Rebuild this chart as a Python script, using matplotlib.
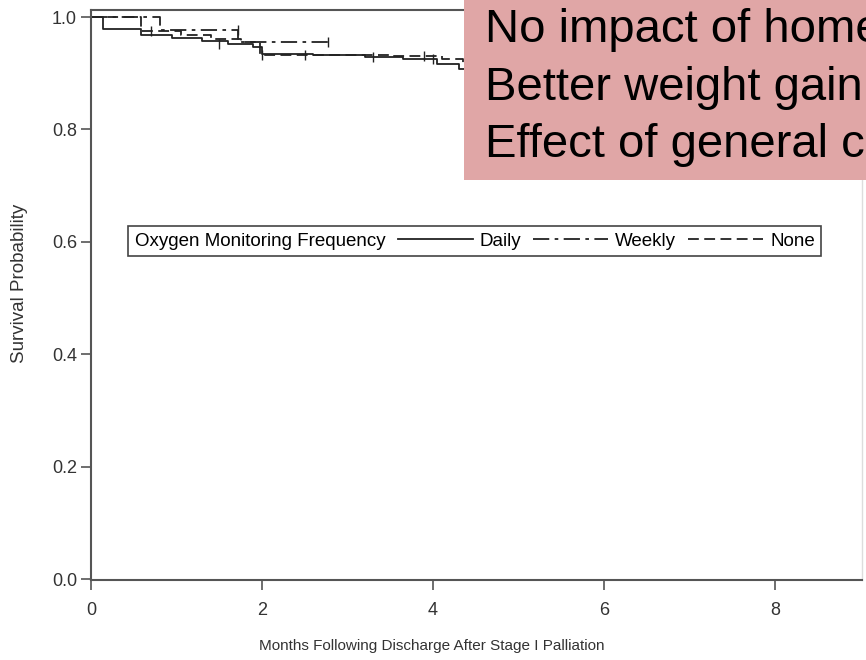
import matplotlib.pyplot as plt
from matplotlib.patches import Rectangle

plt.rcParams['font.family'] = ['Liberation Sans', 'DejaVu Sans']

# Kaplan-Meier step data (months, survival)
daily_t = [0, 0.14, 0.58, 0.95, 1.3, 1.6, 1.9, 2.0, 2.6, 3.2, 3.65, 4.05, 4.3, 4.45, 4.7]
daily_s = [1.0, 0.978, 0.968, 0.963, 0.958, 0.952, 0.946, 0.935, 0.932, 0.929, 0.925, 0.916, 0.908, 0.9, 0.893]
weekly_t = [0, 0.81, 1.72, 2.77]
weekly_s = [1.0, 0.977, 0.956, 0.956]
none_t = [0, 0.59, 1.05, 1.4, 1.75, 1.98, 3.5, 4.1, 4.35, 4.7]
none_s = [1.0, 0.975, 0.968, 0.961, 0.955, 0.932, 0.93, 0.925, 0.918, 0.918]

# censored observations
daily_cens_t = [1.5, 2.5, 3.3, 4.0]
daily_cens_s = [0.952, 0.932, 0.929, 0.925]
weekly_cens_t = [1.72, 2.77]
weekly_cens_s = [0.977, 0.956]
none_cens_t = [0.7, 2.0, 3.9]
none_cens_s = [0.975, 0.932, 0.93]

x_ticks = [0, 2, 4, 6, 8]
y_ticks = [0.0, 0.2, 0.4, 0.6, 0.8, 1.0]

# overlay note, only the part visible in the picture
notes = ['No impact of home',
         'Better weight gain',
         'Effect of general c']

fig = plt.figure(figsize=(8.66, 6.6), dpi=100)
ax = fig.add_axes([91 / 866, 80 / 660, 771 / 866, 570 / 660])

lc = '#222222'
l1, = ax.step(daily_t, daily_s, where='post', color=lc, lw=1.3, linestyle='-', label='Daily')
l2, = ax.step(weekly_t, weekly_s, where='post', color=lc, lw=1.3, linestyle=(0, (9, 3, 2, 3)), label='Weekly')
l3, = ax.step(none_t, none_s, where='post', color=lc, lw=1.3, linestyle=(0, (6, 3)), label='None')
ax.plot(daily_cens_t, daily_cens_s, '|', color=lc, ms=7)
ax.plot(weekly_cens_t, weekly_cens_s, '|', color=lc, ms=7)
ax.plot(none_cens_t, none_cens_s, '|', color=lc, ms=7)

ax.set_xlim(0, 771 / 85.5)
ax.set_ylim(-1 / 562, 1 + 7 / 562)
ax.set_xticks(x_ticks)
ax.set_xticklabels([str(v) for v in x_ticks])
ax.set_yticks(y_ticks)
ax.set_yticklabels(['%.1f' % v for v in y_ticks])

for s in ['left', 'bottom', 'top']:
    ax.spines[s].set_color('#555555')
    ax.spines[s].set_linewidth(1.5)
ax.spines['right'].set_color('#dddddd')
ax.spines['right'].set_linewidth(1)
ax.tick_params(direction='out', length=7, width=1.2, color='#555555',
               labelcolor='#333333', labelsize=13)
ax.tick_params(axis='x', pad=9)
ax.tick_params(axis='y', pad=3)

ax.set_xlabel('Months Following Discharge After Stage I Palliation', fontsize=11, color='#333333')
ax.xaxis.set_label_coords(341 / 771, -59 / 570)
ax.set_ylabel('Survival Probability', fontsize=13.5, color='#333333')
ax.yaxis.set_label_coords(-63 / 771, 0.52)

leg = ax.legend([l1, l2, l3], ['Daily', 'Weekly', 'None'], title='Oxygen Monitoring Frequency',
                ncol=3, loc='center left', bbox_to_anchor=(37 / 771, 339 / 570),
                fancybox=False, framealpha=1, edgecolor='#444444', fontsize=13.5,
                title_fontsize=13.5, handlelength=4.0, handletextpad=0.35,
                columnspacing=0.6, borderpad=0.35, borderaxespad=0)
leg.get_frame().set_linewidth(1.2)
# put the legend title to the left of the entries
vbox = leg.get_children()[0]
title_box = vbox.get_children()[0]
hbox = vbox.get_children()[1]
vbox._children.remove(title_box)
hbox._children = [title_box] + hbox.get_children()
hbox.sep = 9

fig.add_artist(Rectangle((464 / 866, 1 - 180 / 660), 1, 1, transform=fig.transFigure,
                         facecolor='#e0a6a6', edgecolor='none', zorder=5))
for i, line in enumerate(notes):
    fig.text(485 / 866, 1 - (42 + 57.5 * i) / 660, line, va='baseline', ha='left',
             fontsize=34, color='black', zorder=6)

fig.savefig('out.png', dpi=100)
